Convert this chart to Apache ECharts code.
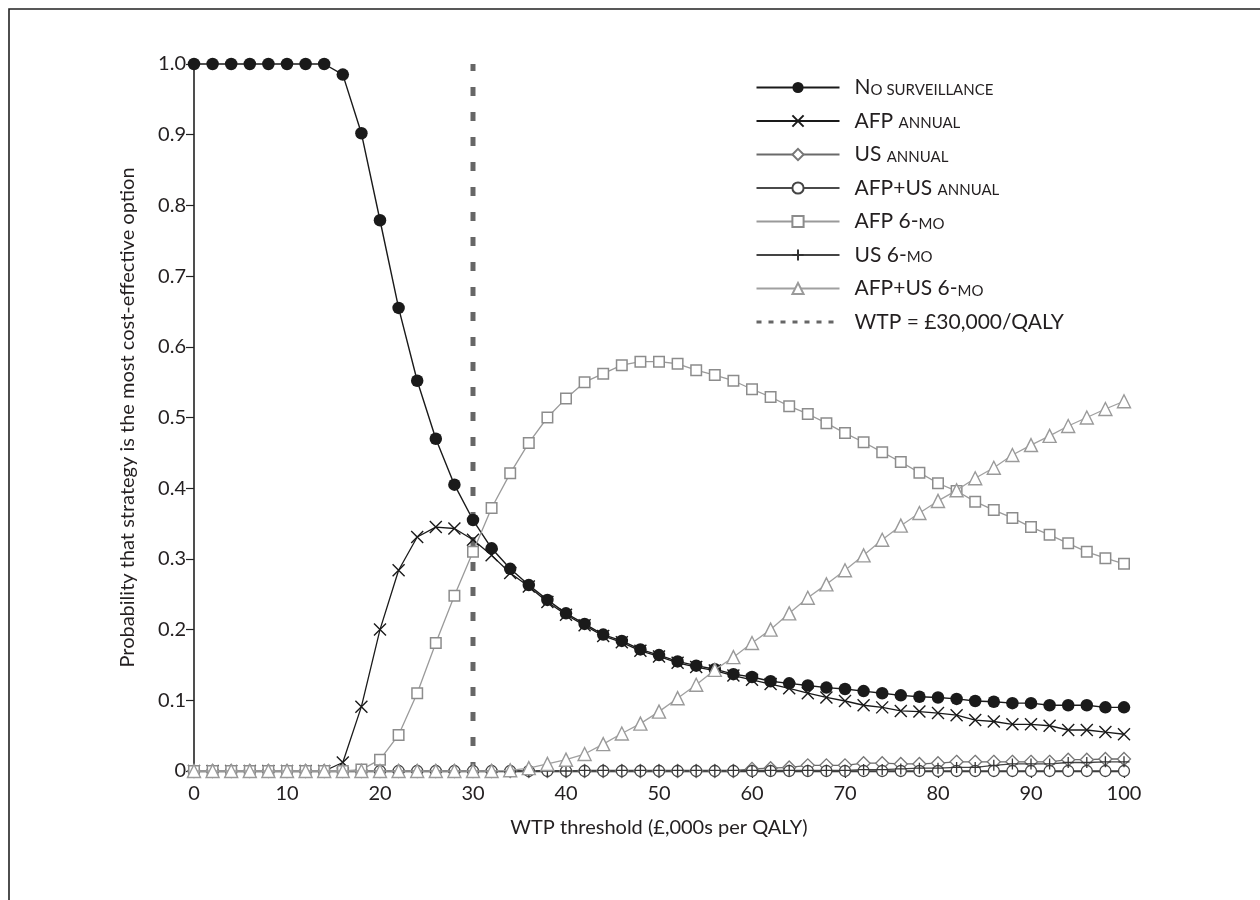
<!DOCTYPE html>
<html>
<head>
<meta charset="utf-8">
<script src="https://cdn.jsdelivr.net/npm/echarts@6/dist/echarts.min.js"></script>
<style>
  html, body { margin: 0; padding: 0; background: #fff; }
  #chart { width: 1260px; height: 900px; }
</style>
</head>
<body>
<div id="chart"></div>
<script>
// ---- Data (WTP threshold in £,000s per QALY) ----
const wtp = [0,2,4,6,8,10,12,14,16,18,20,22,24,26,28,30,32,34,36,38,40,42,44,46,48,50,52,54,56,58,60,62,64,66,68,70,72,74,76,78,80,82,84,86,88,90,92,94,96,98,100];

const noSurveillance = [1,1,1,1,1,1,1,1,0.985,0.902,0.779,0.655,0.552,0.470,0.405,0.355,0.315,0.286,0.263,0.242,0.223,0.208,0.193,0.184,0.172,0.164,0.155,0.149,0.144,0.137,0.133,0.127,0.124,0.121,0.118,0.116,0.113,0.110,0.107,0.105,0.104,0.102,0.099,0.098,0.096,0.096,0.093,0.093,0.093,0.090,0.090];

const afpAnnual = [0,0,0,0,0,0,0,0,0.012,0.091,0.200,0.284,0.331,0.345,0.343,0.327,0.305,0.280,0.261,0.239,0.221,0.206,0.191,0.182,0.170,0.162,0.153,0.147,0.142,0.135,0.129,0.123,0.117,0.110,0.104,0.099,0.093,0.090,0.085,0.084,0.082,0.079,0.072,0.070,0.066,0.066,0.064,0.058,0.058,0.055,0.052];

const usAnnual = [0,0,0,0,0,0,0,0,0,0,0,0,0,0,0,0,0,0,0,0,0,0,0,0,0,0,0,0,0,0,0.003,0.004,0.005,0.008,0.008,0.008,0.011,0.011,0.010,0.010,0.011,0.013,0.013,0.013,0.013,0.013,0.013,0.016,0.016,0.017,0.017];

const afpUsAnnual = [0,0,0,0,0,0,0,0,0,0,0,0,0,0,0,0,0,0,0,0,0,0,0,0,0,0,0,0,0,0,0,0,0,0,0,0,0,0,0,0,0,0,0,0,0,0,0,0,0,0,0];

const afp6mo = [0,0,0,0,0,0,0,0,0,0.002,0.016,0.051,0.110,0.181,0.248,0.310,0.372,0.421,0.464,0.500,0.527,0.550,0.562,0.574,0.579,0.579,0.576,0.567,0.560,0.552,0.540,0.529,0.516,0.505,0.492,0.478,0.465,0.451,0.437,0.422,0.407,0.396,0.381,0.369,0.358,0.345,0.334,0.322,0.310,0.301,0.293];

const us6mo = [0,0,0,0,0,0,0,0,0,0,0,0,0,0,0,0,0,0,0,0,0,0.001,0.001,0.001,0.001,0.001,0.001,0.001,0.001,0.001,0.001,0.001,0.001,0.001,0.001,0.001,0.002,0.002,0.003,0.004,0.004,0.005,0.005,0.008,0.010,0.010,0.010,0.012,0.012,0.013,0.013];

const afpUs6mo = [0,0,0,0,0,0,0,0,0,0,0,0,0,0,0,0,0,0.001,0.004,0.010,0.016,0.024,0.038,0.053,0.067,0.084,0.103,0.122,0.143,0.161,0.181,0.200,0.223,0.245,0.264,0.284,0.305,0.327,0.347,0.365,0.382,0.397,0.414,0.429,0.447,0.461,0.474,0.488,0.500,0.512,0.523];

const wtpLineX = [30, 30];
const wtpLineY = [0, 1];

const xTicks = [0,10,20,30,40,50,60,70,80,90,100];
const seriesNames = ['No surveillance','AFP annual','US annual','AFP+US annual','AFP 6-mo','US 6-mo','AFP+US 6-mo','WTP = £30,000/QALY'];
const legendLabels = {
  'No surveillance': 'N{s|O SURVEILLANCE}',
  'AFP annual': 'AFP {s|ANNUAL}',
  'US annual': 'US {s|ANNUAL}',
  'AFP+US annual': 'AFP+US {s|ANNUAL}',
  'AFP 6-mo': 'AFP 6-{s|MO}',
  'US 6-mo': 'US 6-{s|MO}',
  'AFP+US 6-mo': 'AFP+US 6-{s|MO}',
  'WTP = £30,000/QALY': 'WTP = £30,000/QALY'
};
const xTitle = 'WTP threshold (£,000s per QALY)';
const yTitle = 'Probability that strategy is the most cost-effective option';

// ---- Build ----
const FONT = 'Lato, "Open Sans", sans-serif';
const TXT = '#231f20';
const pairs = (ys) => wtp.map((x, i) => [x, ys[i]]);
const X_PATH = 'path://M0,0L10,10M0,10L10,0';
const PLUS_PATH = 'path://M5,0L5,10M0,5L10,5';

function lineSeries(name, ys, opts) {
  return Object.assign({
    name: name,
    type: 'line',
    data: pairs(ys),
    showSymbol: true,
    showAllSymbol: true,
    clip: false,
    emphasis: { disabled: true },
    animation: false
  }, opts);
}

const series = [
  lineSeries(seriesNames[0], noSurveillance, {
    z: 5, symbol: 'circle', symbolSize: 12.5,
    lineStyle: { color: '#1a1a1a', width: 1.4 },
    itemStyle: { color: '#1a1a1a', borderColor: '#1a1a1a', borderWidth: 0 }
  }),
  lineSeries(seriesNames[1], afpAnnual, {
    z: 4, symbol: X_PATH, symbolSize: 12,
    lineStyle: { color: '#1a1a1a', width: 1.3 },
    itemStyle: { color: 'rgba(0,0,0,0)', borderColor: '#1a1a1a', borderWidth: 1.4 }
  }),
  lineSeries(seriesNames[2], usAnnual, {
    z: 3, symbol: 'diamond', symbolSize: 13,
    lineStyle: { color: '#6a6a6a', width: 1.3 },
    itemStyle: { color: '#ffffff', borderColor: '#777777', borderWidth: 1.3 }
  }),
  lineSeries(seriesNames[3], afpUsAnnual, {
    z: 3, symbol: 'circle', symbolSize: 11,
    lineStyle: { color: '#4a4a4a', width: 1.3 },
    itemStyle: { color: '#ffffff', borderColor: '#444444', borderWidth: 1.3 }
  }),
  lineSeries(seriesNames[4], afp6mo, {
    z: 6, symbol: 'rect', symbolSize: 10.5,
    lineStyle: { color: '#9a9a9a', width: 1.3 },
    itemStyle: { color: '#ffffff', borderColor: '#8c8c8c', borderWidth: 1.5 }
  }),
  lineSeries(seriesNames[5], us6mo, {
    z: 3, symbol: PLUS_PATH, symbolSize: 11,
    lineStyle: { color: '#444444', width: 1.3 },
    itemStyle: { color: 'rgba(0,0,0,0)', borderColor: '#333333', borderWidth: 1.3 }
  }),
  lineSeries(seriesNames[6], afpUs6mo, {
    z: 7, symbol: 'triangle', symbolSize: 13,
    lineStyle: { color: '#a0a0a0', width: 1.3 },
    itemStyle: { color: '#ffffff', borderColor: '#9a9a9a', borderWidth: 1.4 }
  }),
  {
    name: seriesNames[7],
    type: 'line',
    z: 1,
    data: wtpLineX.map((x, i) => [x, wtpLineY[i]]),
    symbol: 'none',
    animation: false,
    emphasis: { disabled: true },
    lineStyle: { color: '#666666', width: 5, type: [9, 16] },
    itemStyle: { color: '#666666' }
  }
];

const chart = echarts.init(document.getElementById('chart'), null, { renderer: 'canvas' });
chart.setOption({
  animation: false,
  backgroundColor: '#ffffff',
  textStyle: { fontFamily: FONT, color: TXT },
  graphic: [{
    type: 'rect', silent: true, z: 100,
    shape: { x: 9, y: 9, width: 1400, height: 1000 },
    style: { fill: 'none', stroke: '#222', lineWidth: 1.6 }
  }],
  grid: { left: 194, right: 136, top: 64, bottom: 129, containLabel: false },
  xAxis: {
    type: 'value', min: 0, max: 100, interval: 10,
    name: xTitle, nameLocation: 'middle', nameGap: 47,
    nameTextStyle: { fontFamily: FONT, fontSize: 20, color: TXT },
    axisLine: { show: true, onZero: false, lineStyle: { color: '#222', width: 1.4 } },
    axisTick: { show: true, inside: false, length: 7, lineStyle: { color: '#222', width: 1.2 } },
    axisLabel: { fontFamily: FONT, fontSize: 20, color: TXT, margin: 13,
      customValues: xTicks },
    splitLine: { show: false }
  },
  yAxis: {
    type: 'value', min: 0, max: 1, interval: 0.1,
    name: yTitle, nameLocation: 'middle', nameGap: 56, nameRotate: 90,
    nameTextStyle: { fontFamily: FONT, fontSize: 20, color: TXT },
    axisLine: { show: true, lineStyle: { color: '#222', width: 1.6 } },
    axisTick: { show: true, inside: false, length: 8, lineStyle: { color: '#222', width: 1.2 } },
    axisLabel: { fontFamily: FONT, fontSize: 20, color: TXT, margin: 8,
      formatter: (v) => (v === 0 ? '0' : v.toFixed(1)) },
    splitLine: { show: false }
  },
  legend: {
    orient: 'vertical', left: 755, top: 77, padding: 0,
    itemWidth: 83, itemHeight: 14, itemGap: 12.5,
    selectedMode: false,
    textStyle: {
      fontFamily: FONT, fontSize: 21, color: TXT, lineHeight: 20,
      padding: [0, 0, 0, 10],
      rich: { s: { fontFamily: FONT, fontSize: 15, color: TXT, lineHeight: 20, verticalAlign: 'bottom' } }
    },
    formatter: (name) => legendLabels[name] || name,
    data: seriesNames.map((n, i) => i === 7
      ? { name: n, lineStyle: { width: 3, type: [5, 7], color: '#666666' },
          itemStyle: { color: 'rgba(0,0,0,0)', borderColor: 'rgba(0,0,0,0)', borderWidth: 0, opacity: 0 } }
      : { name: n })
  },
  series: series
});
</script>
</body>
</html>
